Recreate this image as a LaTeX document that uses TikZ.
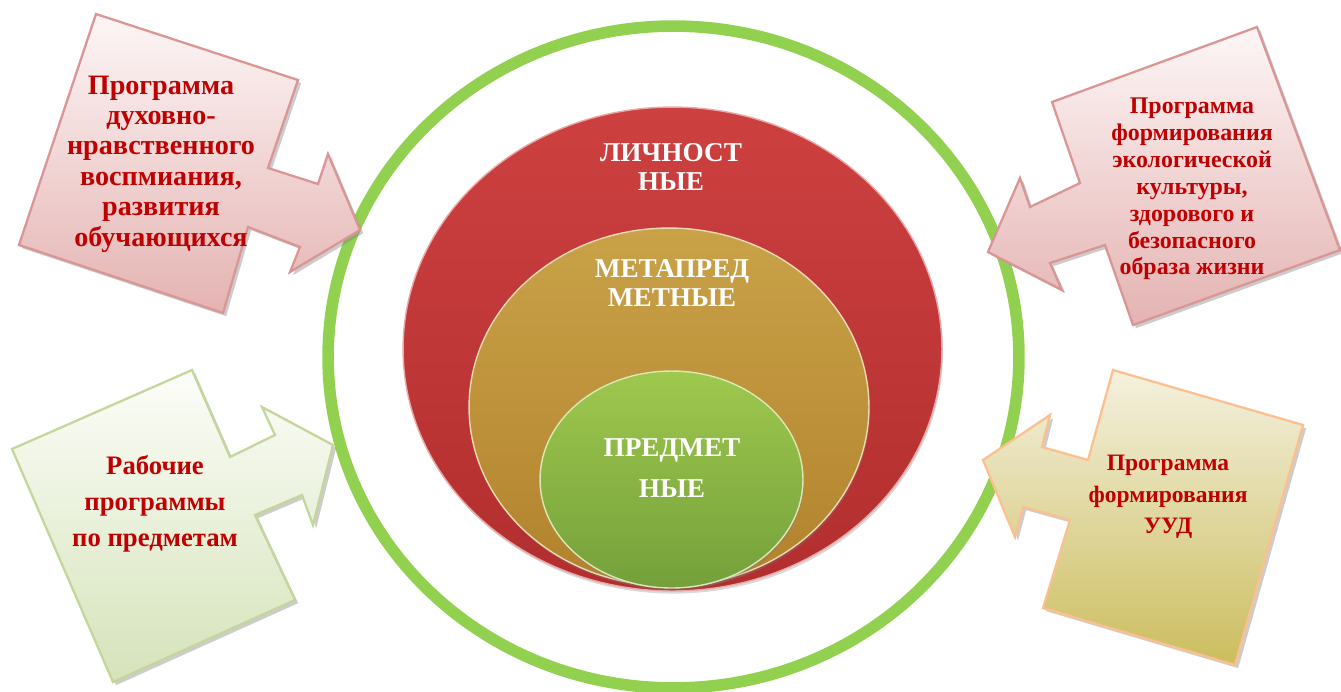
\documentclass[tikz,border=0pt]{standalone}
\usepackage{fontspec}
\setmainfont{Liberation Serif}
\usetikzlibrary{shapes.geometric,shadows}

\definecolor{ringgreen}{HTML}{92D050}
\definecolor{txtred}{HTML}{C00000}
\definecolor{redtop}{HTML}{CD4040}
\definecolor{redbot}{HTML}{B22E2E}
\definecolor{goldtop}{HTML}{C9A248}
\definecolor{goldbot}{HTML}{B2822C}
\definecolor{leaftop}{HTML}{9FC84E}
\definecolor{leafbot}{HTML}{74A03A}
\definecolor{pinkline}{HTML}{D99694}
\definecolor{pinktop}{HTML}{FDF6F6}
\definecolor{pinkbot}{HTML}{E4B3B2}
\definecolor{sageline}{HTML}{C3D69B}
\definecolor{sagetop}{HTML}{FCFDF9}
\definecolor{sagebot}{HTML}{D5E3BA}
\definecolor{sandline}{HTML}{FAC090}
\definecolor{sandtop}{HTML}{F4F1DF}
\definecolor{sandbot}{HTML}{CCBD5E}

\begin{document}
\begin{tikzpicture}[x=0.02cm, y=-0.02cm, very thick]
	\tikzstyle{ring}    = [ellipse, draw=ringgreen, line width=6.6pt, inner sep=0pt, minimum width=13.82cm, minimum height=13.24cm]
	\tikzstyle{layer}   = [ellipse, inner sep=0pt, line width=0.8pt, drop shadow={opacity=0.3, shadow xshift=0.6pt, shadow yshift=-1.5pt}]
	\tikzstyle{layerA}  = [layer, draw=redtop!45!white, top color=redtop, bottom color=redbot, minimum width=10.78cm, minimum height=9.68cm]
	\tikzstyle{layerB}  = [layer, draw=goldtop!40!white, top color=goldtop, bottom color=goldbot, minimum width=8cm, minimum height=7.16cm]
	\tikzstyle{layerC}  = [layer, draw=leaftop!40!white, top color=leaftop, bottom color=leafbot, minimum width=5.26cm, minimum height=4.34cm]
	\tikzstyle{backing} = [fill=black!50, opacity=0.4, xshift=1.8pt, yshift=-1.8pt]
	\tikzstyle{arrowP}  = [draw=pinkline, line width=1.3pt, top color=pinktop, bottom color=pinkbot]
	\tikzstyle{arrowS}  = [draw=sageline, line width=1.3pt, top color=sagetop, bottom color=sagebot]
	\tikzstyle{arrowY}  = [draw=sandline, line width=1.3pt, top color=sandtop, bottom color=sandbot]
	\tikzstyle{textA}   = [align=center, text=txtred, font=\bfseries\fontsize{16}{17.3}\selectfont]
	\tikzstyle{textB}   = [align=center, text=txtred, font=\bfseries\fontsize{13.6}{15.3}\selectfont]
	\tikzstyle{textC}   = [align=center, text=txtred, font=\bfseries\fontsize{15.2}{20.4}\selectfont]
	\tikzstyle{textD}   = [align=center, text=txtred, font=\bfseries\fontsize{13.4}{18}\selectfont]
	\tikzstyle{textW}   = [align=center, text=white, font=\bfseries\fontsize{15.5}{17}\selectfont]
	\tikzstyle{textW2}  = [align=center, text=white, font=\bfseries\fontsize{15.5}{23}\selectfont]

	\useasboundingbox (0,0) rectangle (1341,691);

	\node[ring] (hoop) at (673.5,357) {};

	% arrows (shadow first)
	\foreach \styl/\pts in {P/{(96,14) -- (298,80) -- (268,168) -- (318,184) -- (328,154) -- (360,230) -- (290,272) -- (300,247) -- (248,227) -- (223,313) -- (19,245)},
		P/{(1052,102) -- (1257,27) -- (1340,250) -- (1133,325) -- (1105,245) -- (1050,263) -- (1062,290) -- (988,252) -- (1020,178) -- (1030,207) -- (1080,183)},
		S/{(12,449) -- (192,370) -- (230,457) -- (275,435) -- (262,407) -- (333,445) -- (313,525) -- (302,495) -- (255,515) -- (295,600) -- (113,682)},
		Y/{(1113,370) -- (1303,425) -- (1235,665) -- (1043,608) -- (1070,520) -- (1023,507) -- (1015,537) -- (983,460) -- (1050,415) -- (1042,447) -- (1088,460)}}
	{
		\path[backing] \pts -- cycle;
		\path[arrow\styl] \pts -- cycle;
	}

	\node[layerA] (lichn) at (672.5,349) {};
	\node[layerB] (metap) at (669,407) {};
	\node[layerC] (predm) at (671.5,479.5) {};

	\foreach \name/\x/\y/\styl/\txt in {
		lichnT/671/167/W/{ЛИЧНОСТ\\НЫЕ},
		metapT/672/283/W/{МЕТАПРЕД\\МЕТНЫЕ},
		predmT/672/468/W2/{ПРЕДМЕТ\\НЫЕ},
		dukhov/161/164/A/{Программа\\духовно-\\нравственного\\воспмиания,\\развития\\обучающихся},
		ekolog/1192/189/B/{Программа\\формирования\\экологической\\культуры,\\здорового и\\безопасного\\образа жизни},
		raboch/155/504/C/{Рабочие\\программы\\по предметам},
		uud/1168/497/D/{Программа\\формирования\\УУД}}
		\node[text\styl] (\name) at (\x,\y) {\txt};
\end{tikzpicture}
\end{document}
